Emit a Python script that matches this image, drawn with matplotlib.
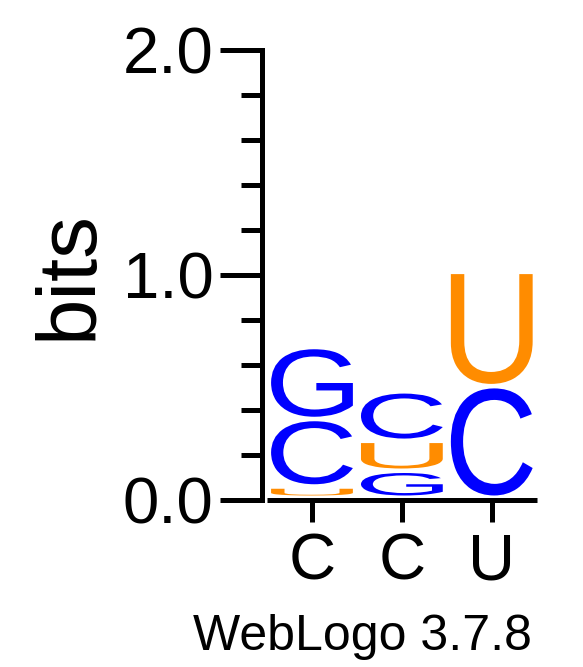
import matplotlib
matplotlib.use("Agg")
import matplotlib.pyplot as plt
from matplotlib.font_manager import FontProperties
from matplotlib.patches import PathPatch
from matplotlib.textpath import TextPath
from matplotlib.transforms import Affine2D
from matplotlib.ticker import MultipleLocator

# sequence logo data: letters stacked bottom -> top, heights in bits
positions = [1, 2, 3]
col_labels = ["C", "C", "U"]
stack_letters = [["U", "C", "G"], ["G", "U", "C"], ["C", "U"]]
stack_heights = [[0.05, 0.30, 0.32], [0.12, 0.133, 0.22], [0.496, 0.508]]
letter_colors = {"C": "#0000ff", "G": "#0000ff", "U": "#ff8c00"}

FONT = "Liberation Sans"
LETTER_W = 0.91
GAP = 0.02  # blank strip at the bottom of every letter box

fig = plt.figure(figsize=(5.83, 6.67), dpi=100)
ax = fig.add_axes([262 / 583, 1 - 500 / 667, (536.7 - 262) / 583, 450 / 667])

fp = FontProperties(family=FONT)


def draw_letter(ax, letter, xc, bottom, height, color):
    tp = TextPath((0, 0), letter, size=1, prop=fp)
    ext = tp.get_extents()
    top = bottom + height
    b = bottom + GAP
    if top - b <= 0:
        return
    tr = (Affine2D()
          .translate(-ext.x0, -ext.y0)
          .scale(LETTER_W / ext.width, (top - b) / ext.height)
          .translate(xc - LETTER_W / 2, b))
    ax.add_patch(PathPatch(tr.transform_path(tp), facecolor=color,
                           edgecolor="none", lw=0))


for xc, letters, heights in zip(positions, stack_letters, stack_heights):
    y = 0.0
    for letter, h in zip(letters, heights):
        draw_letter(ax, letter, xc, y, h, letter_colors[letter])
        y += h

ax.set_xlim(0.444, 3.5)
ax.set_ylim(0, 2.0)

for side in ("top", "right"):
    ax.spines[side].set_visible(False)
for side in ("left", "bottom"):
    ax.spines[side].set_linewidth(3.6)
ax.spines["bottom"].set_bounds(0.497, 3.5)
ax.spines["bottom"].set_capstyle("butt")

ax.set_yticks([0, 1, 2])
ax.set_yticklabels(["0.0", "1.0", "2.0"])
ax.yaxis.set_minor_locator(MultipleLocator(0.2))
ax.tick_params(axis="y", which="major", direction="out", length=30, width=3.6,
               pad=5, labelsize=47)
ax.tick_params(axis="y", which="minor", direction="out", length=15, width=3.6)
ax.set_xticks(positions)
ax.set_xticklabels(col_labels)
ax.tick_params(axis="x", which="major", direction="out", length=15.5, width=3.6,
               pad=8, labelsize=47)
for lab in ax.get_xticklabels() + ax.get_yticklabels():
    lab.set_fontfamily(FONT)

fig.text(70 / 583, 1 - 275 / 667, "bits", rotation=90, ha="center", va="center",
         fontsize=60, family=FONT)
fig.text(532 / 583, 1 - 650 / 667, "WebLogo 3.7.8", ha="right", va="baseline",
         fontsize=36, family=FONT)

fig.savefig("out.png", dpi=100)
